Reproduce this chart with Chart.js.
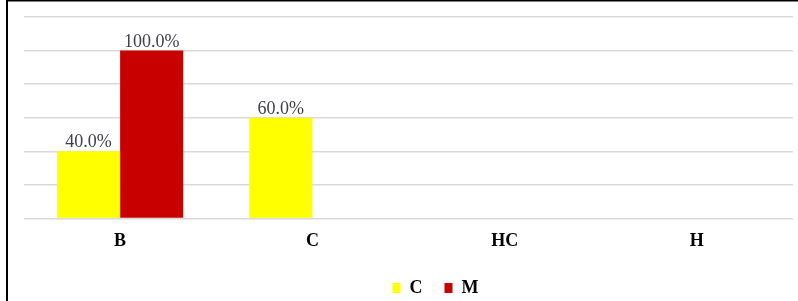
<!DOCTYPE html>
<html>
<head>
<meta charset="utf-8">
<script src="https://cdn.jsdelivr.net/npm/chart.js@4"></script>
<style>
html,body{margin:0;padding:0;background:#fff;}
#wrap{position:absolute;left:0;top:0;width:798px;height:301px;}
</style>
</head>
<body>
<div id="wrap"><canvas id="c" width="798" height="301"></canvas></div>
<script>
const categories = ["B", "C", "HC", "H"];
const seriesNames = ["C", "M"];
const seriesC = [40, 60, 0, 0];
const seriesM = [100, 0, 0, 0];
const yTicks = [0, 20, 40, 60, 80, 100, 120];

const frame = {
  id: 'frame',
  afterDraw(chart) {
    const ctx = chart.ctx;
    ctx.save();
    ctx.fillStyle = '#000';
    ctx.fillRect(6, 0, 2, 301);
    ctx.fillRect(6, 0, 792, 1.5);
    ctx.restore();
  }
};

const legendShift = {
  id: 'legendShift',
  afterLayout(chart) {
    const lg = chart.legend;
    if (lg) { lg.left += 27; lg.right += 27; }
  }
};

const valueLabels = {
  id: 'valueLabels',
  afterDatasetsDraw(chart) {
    const ctx = chart.ctx;
    ctx.save();
    ctx.font = '18px "Liberation Serif"';
    ctx.fillStyle = '#404048';
    ctx.textAlign = 'center';
    ctx.textBaseline = 'alphabetic';
    chart.data.datasets.forEach((ds, i) => {
      const meta = chart.getDatasetMeta(i);
      meta.data.forEach((bar, j) => {
        const v = ds.data[j];
        if (!v) return;
        ctx.fillText(v.toFixed(1) + '%', bar.x, bar.y - 4);
      });
    });
    ctx.restore();
  }
};

new Chart(document.getElementById('c'), {
  type: 'bar',
  data: {
    labels: categories,
    datasets: [
      { label: seriesNames[0], data: seriesC, backgroundColor: '#ffff00' },
      { label: seriesNames[1], data: seriesM, backgroundColor: '#c80000' }
    ]
  },
  options: {
    responsive: false,
    animation: false,
    devicePixelRatio: 1,
    categoryPercentage: 0.656,
    barPercentage: 1,
    layout: { padding: { left: 24, right: 5, top: 17, bottom: -6 } },
    plugins: {
      legend: {
        position: 'bottom',
        labels: {
          boxWidth: 8, boxHeight: 10, padding: 22,
          color: '#000',
          font: { family: '"Liberation Serif"', size: 18, weight: 'bold', lineHeight: 1 }
        }
      },
      tooltip: { enabled: false }
    },
    scales: {
      x: {
        grid: { display: false },
        border: { display: false },
        ticks: { color: '#000', padding: 4, font: { family: '"Liberation Serif"', size: 18, weight: 'bold' } },
        afterFit(axis) { axis.height += 1; }
      },
      y: {
        min: yTicks[0], max: yTicks[yTicks.length - 1],
        afterBuildTicks(axis) { axis.ticks = yTicks.map(v => ({ value: v })); },
        ticks: { display: false },
        grid: { color: '#d9d9d9', lineWidth: 1.5, drawTicks: false },
        border: { display: false }
      }
    }
  },
  plugins: [frame, legendShift, valueLabels]
});
</script>
</body>
</html>
